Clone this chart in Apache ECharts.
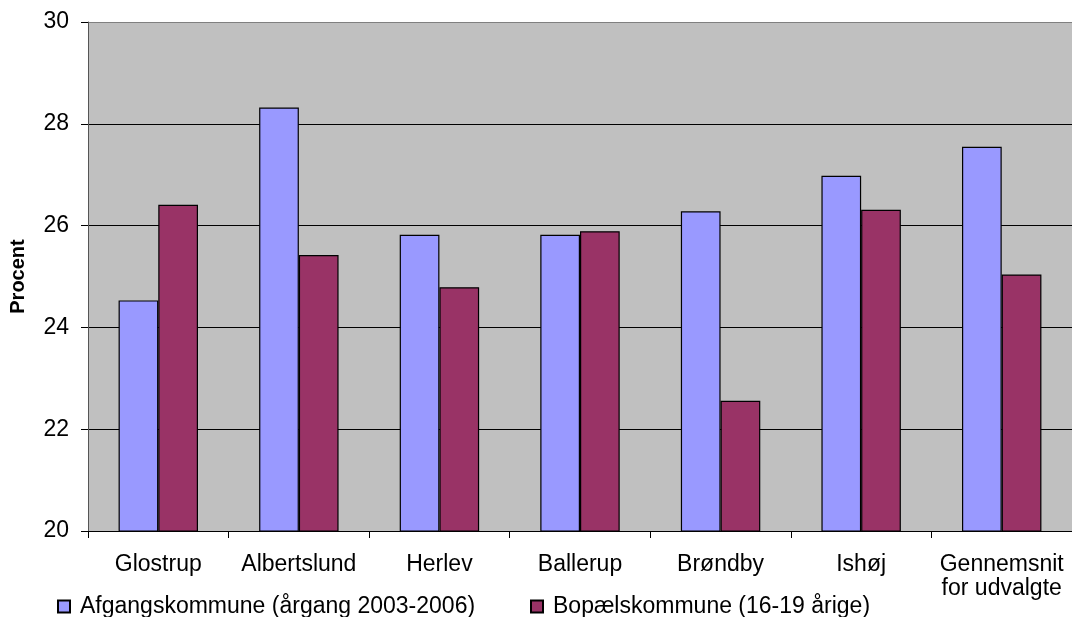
<!DOCTYPE html>
<html>
<head>
<meta charset="utf-8">
<script src="https://cdn.jsdelivr.net/npm/echarts@6/dist/echarts.min.js"></script>
<style>html,body{margin:0;padding:0;background:#fff;}#c{width:1072px;height:617px;}</style>
</head>
<body>
<div id="c"></div>
<script>
var categories = ['Glostrup', 'Albertslund', 'Herlev', 'Ballerup', 'Brøndby', 'Ishøj', 'Gennemsnit\nfor udvalgte'];
var afgang = [24.53, 28.32, 25.82, 25.82, 26.28, 26.98, 27.55];
var bopael = [26.41, 25.42, 24.79, 25.89, 22.56, 26.31, 25.04];
var seriesNames = ['Afgangskommune (årgang 2003-2006)', 'Bopælskommune (16-19 årige)'];
var yTicks = {min: 20, max: 30, interval: 2};

var chart = echarts.init(document.getElementById('c'));
var font = 'Liberation Sans, Arial, sans-serif';
chart.setOption({
  animation: false,
  textStyle: {fontFamily: font},
  legend: [
    {data: [seriesNames[0]], left: 57, top: 595, itemWidth: 12, itemHeight: 12, itemGap: 10, padding: 0,
     icon: 'rect', textStyle: {fontSize: 23, color: '#000', fontFamily: font, padding: [0, 0, 0, 5]}},
    {data: [seriesNames[1]], left: 530, top: 595, itemWidth: 12, itemHeight: 12, itemGap: 10, padding: 0,
     icon: 'rect', textStyle: {fontSize: 23, color: '#000', fontFamily: font, padding: [0, 0, 0, 5]}}
  ],
  grid: {left: 85, top: 22, width: 992, height: 509, backgroundColor: '#C0C0C0', show: true, borderWidth: 0},
  xAxis: {
    type: 'category',
    data: categories,
    axisLine: {lineStyle: {color: '#000', width: 1}},
    axisTick: {show: true, length: 7, lineStyle: {color: '#000'}},
    axisLabel: {fontSize: 23, color: '#000', margin: 22, lineHeight: 24, fontFamily: font, interval: 0}
  },
  yAxis: {
    type: 'value',
    min: yTicks.min, max: yTicks.max, interval: yTicks.interval,
    name: 'Procent',
    nameLocation: 'middle',
    nameGap: 60,
    nameTextStyle: {fontSize: 20, fontWeight: 'bold', color: '#000', fontFamily: font},
    axisLine: {show: true, lineStyle: {color: '#555', width: 1}},
    axisTick: {show: true, length: 7, lineStyle: {color: '#000'}},
    axisLabel: {fontSize: 23, color: '#000', margin: 19, fontFamily: font},
    splitLine: {show: true, lineStyle: {color: ['#000', '#000', '#000', '#000', '#000', '#808080'], width: 1}}
  },
  series: [
    {name: seriesNames[0], type: 'bar', data: afgang, barGap: '0%', barCategoryGap: '43.5%',
     itemStyle: {color: '#9999FF', borderColor: '#000', borderWidth: 1.2}},
    {name: seriesNames[1], type: 'bar', data: bopael, barGap: '0%', barCategoryGap: '43.5%',
     itemStyle: {color: '#993366', borderColor: '#000', borderWidth: 1.2}}
  ]
});
</script>
</body>
</html>
